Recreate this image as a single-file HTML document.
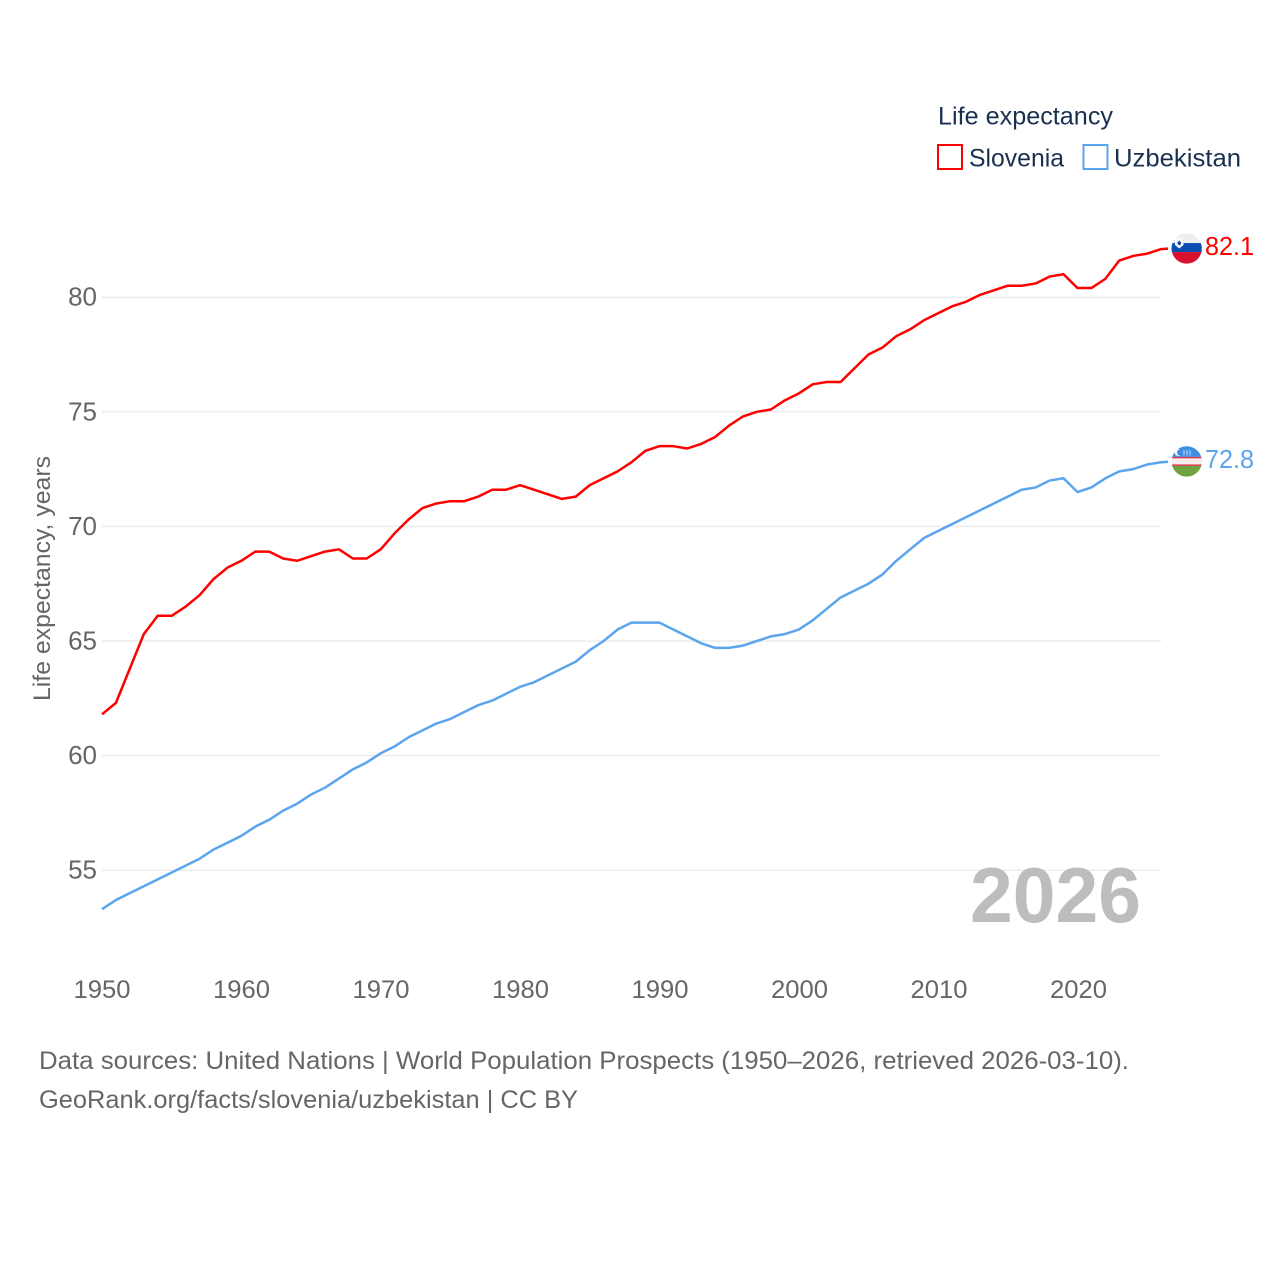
<!DOCTYPE html>
<html lang="en">
<head>
<meta charset="utf-8">
<title>Life expectancy: Slovenia and Uzbekistan</title>
<style>
html,body{margin:0;padding:0;background:#fff;width:1280px;height:1280px;overflow:hidden}
svg{display:block;font-family:"Liberation Sans",sans-serif}
</style>
</head>
<body>
<svg id="chart" xmlns="http://www.w3.org/2000/svg" width="1280" height="1280" viewBox="0 0 1280 1280">
  <rect width="1280" height="1280" fill="#fff"/>
  <g id="grid"></g>
  <g id="yticks"></g>
  <g id="xticks"></g>
  <text transform="translate(50,701) rotate(-90)" font-size="24" fill="#666" textLength="245" lengthAdjust="spacingAndGlyphs">Life expectancy, years</text>
  <text x="970" y="922" font-size="78" font-weight="700" fill="#bdbdbd" textLength="171" lengthAdjust="spacingAndGlyphs">2026</text>
  <g id="series"></g>
  <g id="endpoints"></g>
  <g>
    <text x="938" y="124.500" font-size="25" fill="#1a3050" textLength="175" lengthAdjust="spacingAndGlyphs">Life expectancy</text>
    <g>
      <rect x="938" y="145" width="24" height="24" fill="#fff" stroke="#ff0000" stroke-width="2"/>
      <text x="969" y="166.500" font-size="25" fill="#1a3050" textLength="95" lengthAdjust="spacingAndGlyphs">Slovenia</text>
    </g>
    <g>
      <rect x="1083.500" y="145" width="24" height="24" fill="#fff" stroke="#5ba4ee" stroke-width="2"/>
      <text x="1114" y="166.500" font-size="25" fill="#1a3050" textLength="127" lengthAdjust="spacingAndGlyphs">Uzbekistan</text>
    </g>
  </g>
  <text x="39" y="1069" font-size="25" fill="#666" textLength="1090" lengthAdjust="spacingAndGlyphs">Data sources: United Nations | World Population Prospects (1950–2026, retrieved 2026-03-10).</text>
  <text x="39" y="1108" font-size="25" fill="#666" textLength="539" lengthAdjust="spacingAndGlyphs">GeoRank.org/facts/slovenia/uzbekistan | CC BY</text>
</svg>
<script>
const startYear = 1950;
const xTickLabels = [1950, 1960, 1970, 1980, 1990, 2000, 2010, 2020];
const yTickLabels = [55, 60, 65, 70, 75, 80];
const sloveniaValues = [61.8,62.3,63.8,65.3,66.1,66.1,66.5,67.0,67.7,68.2,68.5,68.9,68.9,68.6,68.5,68.7,68.9,69.0,68.6,68.6,69.0,69.7,70.3,70.8,71.0,71.1,71.1,71.3,71.6,71.6,71.8,71.6,71.4,71.2,71.3,71.8,72.1,72.4,72.8,73.3,73.5,73.5,73.4,73.6,73.9,74.4,74.8,75.0,75.1,75.5,75.8,76.2,76.3,76.3,76.9,77.5,77.8,78.3,78.6,79.0,79.3,79.6,79.8,80.1,80.3,80.5,80.5,80.6,80.9,81.0,80.4,80.4,80.8,81.6,81.8,81.9,82.1];
const uzbekistanValues = [53.3,53.7,54.0,54.3,54.6,54.9,55.2,55.5,55.9,56.2,56.5,56.9,57.2,57.6,57.9,58.3,58.6,59.0,59.4,59.7,60.1,60.4,60.8,61.1,61.4,61.6,61.9,62.2,62.4,62.7,63.0,63.2,63.5,63.8,64.1,64.6,65.0,65.5,65.8,65.8,65.8,65.5,65.2,64.9,64.7,64.7,64.8,65.0,65.2,65.3,65.5,65.9,66.4,66.9,67.2,67.5,67.9,68.5,69.0,69.5,69.8,70.1,70.4,70.7,71.0,71.3,71.6,71.7,72.0,72.1,71.5,71.7,72.1,72.4,72.5,72.7,72.8];

const NS = 'http://www.w3.org/2000/svg';
const xScale = year => 102 + (year - startYear) * 13.935;
const xLabelScale = year => 102 + (year - startYear) * 13.95;
const yScale = value => 297.2 + (80 - value) * 22.92;
const make = (tag, attrs, parent) => {
  const el = document.createElementNS(NS, tag);
  for (const k in attrs) el.setAttribute(k, attrs[k]);
  parent.appendChild(el);
  return el;
};

const grid = document.getElementById('grid');
const yticks = document.getElementById('yticks');
const xticks = document.getElementById('xticks');
const series = document.getElementById('series');
const endpoints = document.getElementById('endpoints');

yTickLabels.forEach(v => {
  const line = make('line', {x1: 102, x2: 1161, y1: yScale(v), y2: yScale(v), stroke: '#ececec', 'stroke-width': 1.5}, grid);
  
  
  const t = make('text', {x: 97, y: yScale(v) + 8.500, 'text-anchor': 'end', 'font-size': 26, fill: '#666'}, yticks);
  
  
  t.textContent = v;
});

xTickLabels.forEach(y => {
  const t = make('text', {x: xLabelScale(y), y: 998, 'text-anchor': 'middle', 'font-size': 25, fill: '#666', textLength: 57, lengthAdjust: 'spacingAndGlyphs'}, xticks);
  
  
  t.textContent = y;
});

function drawSeries(values, color, slug) {
  let d = values.map((v, i) => (i ? 'L' : 'M') + xScale(startYear + i).toFixed(2) + ' ' + yScale(v).toFixed(2)).join(' ');
  const lastY = yScale(values[values.length - 1]);
  d += ' L ' + (xScale(startYear + values.length - 1) + 7).toFixed(2) + ' ' + (lastY - 0.5).toFixed(2);
  const path = make('path', {d: d, fill: 'none', stroke: color, 'stroke-width': 2.5, 'stroke-linejoin': 'round'}, series);
  
  
  return lastY;
}

function drawFlag(cy, slug, bands) {
  const cx = 1186.7;
  const r = 15.2;
  const clip = make('clipPath', {id: 'clip-' + slug}, endpoints);
  make('circle', {cx: cx, cy: cy, r: r}, clip);
  const g = make('g', {'clip-path': 'url(#clip-' + slug + ')'}, endpoints);
  
  
  bands.forEach(b => make('rect', {x: cx - r, y: cy + b[0], width: 2 * r, height: b[1], fill: b[2]}, g));
  return g;
}

function drawValue(value, y, color, slug) {
  const t = make('text', {x: 1205, y: y + 6, 'font-size': 26, fill: color, textLength: 49, lengthAdjust: 'spacingAndGlyphs'}, endpoints);
  
  
  t.textContent = value.toFixed(1);
}

const sloY = drawSeries(sloveniaValues, '#ff0000', 'slovenia');
const uzbY = drawSeries(uzbekistanValues, '#5ba4ee', 'uzbekistan');

const sloCy = sloY - 0.6;
const sloFlag = drawFlag(sloCy, 'slovenia', [[-16, 10.600, '#eeeeee'], [-5.400, 9, '#0c4db0'], [3.600, 13, '#d6102f']]);
make('path', {d: `M1175 ${sloCy - 10.500} h8.500 v7 l-4.250 3.500 l-4.250 -3.500 z`, fill: '#f4f6fa'}, sloFlag);
make('path', {d: `M1177.500 ${sloCy - 6} l1.750 -2 l1.750 2 v1.500 l-1.750 1.500 l-1.750 -1.500 z`, fill: '#0c4db0'}, sloFlag);

const uzbCy = uzbY - 0.8;
const uzbFlag = drawFlag(uzbCy, 'uzbekistan', [[-16, 11.500, '#3f8fe0'], [-4.500, 1.500, '#e0364c'], [-3, 6, '#f6eeee'], [3, 1.500, '#e0364c'], [4.500, 12, '#6da340']]);
make('path', {d: `M1180 ${uzbCy - 12} a3.500 3.500 0 1 0 0 6 a3 3 0 1 1 0 -6 z`, fill: '#fff'}, uzbFlag);
make('path', {d: `M1184 ${uzbCy - 11} v5 M1187 ${uzbCy - 11} v5 M1190 ${uzbCy - 11} v5`, stroke: '#cfe2f7', 'stroke-width': 1.5, 'stroke-dasharray': '1 0.500'}, uzbFlag);

drawValue(sloveniaValues[sloveniaValues.length - 1], sloY, '#ff0000', 'slovenia');
drawValue(uzbekistanValues[uzbekistanValues.length - 1], uzbY, '#5ba4ee', 'uzbekistan');
</script>
</body>
</html>
